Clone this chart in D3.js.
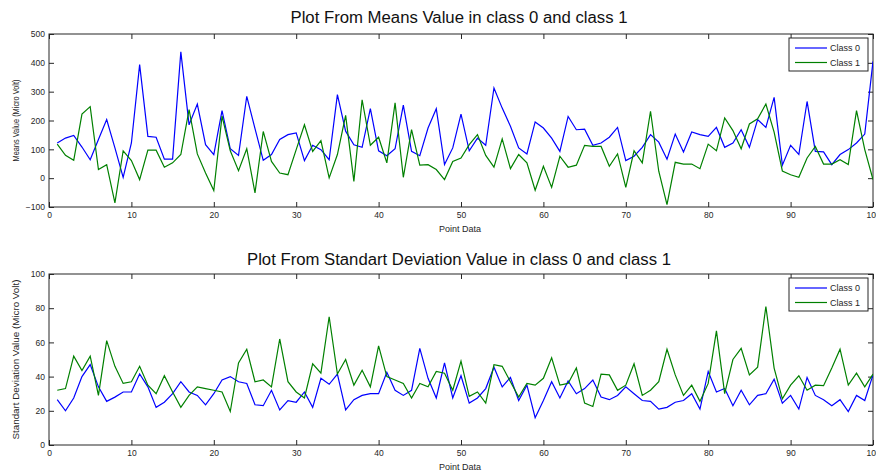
<!DOCTYPE html>
<html>
<head>
<meta charset="utf-8">
<script src="https://cdn.jsdelivr.net/npm/d3@7"></script>
<style>
  body { margin: 0; background: #fff; }
  svg { font-family: "Liberation Sans", Arial, sans-serif; }
</style>
</head>
<body>
<script>
/* --------------------------------------------------------------------------------- */
// data, x = 1 .. 100
var point_index = d3.range(1, 101);

var means_class0 = [122, 139, 148, 108, 64, 134, 203, 105, 3, 122,
  394, 145, 142, 66, 66, 438, 185, 257, 116, 82,
  234, 102, 79, 284, 172, 62, 82, 134, 151, 157,
  61, 114, 99, 64, 290, 163, 116, 107, 241, 95,
  78, 102, 253, 93, 78, 174, 241, 47, 105, 222,
  95, 139, 114, 313, 243, 180, 105, 84, 195, 174,
  139, 93, 214, 168, 170, 114, 122, 142, 176, 61,
  76, 107, 151, 125, 66, 153, 91, 160, 151, 145,
  176, 107, 122, 168, 107, 203, 176, 280, 45, 114,
  82, 266, 93, 91, 47, 82, 99, 122, 153, 405];

var means_class1 = [118, 79, 62, 222, 248, 30, 47, -86, 95, 61,
  -5, 97, 97, 38, 53, 82, 238, 84, 18, -43,
  215, 95, 26, 102, -51, 162, 58, 18, 12, 99,
  185, 93, 130, 1, 82, 218, -11, 272, 114, 142,
  53, 261, 3, 168, 45, 47, 30, -5, 58, 70,
  116, 151, 79, 38, 136, 33, 82, 53, -42, 41,
  -32, 76, 38, 45, 114, 110, 110, 41, 84, -32,
  95, 53, 232, 24, -92, 55, 49, 49, 33, 118,
  95, 209, 165, 102, 188, 206, 257, 160, 25, 12,
  3, 70, 110, 49, 49, 64, 47, 234, 99, -5];

var std_class0 = [26.5, 20, 27.5, 40, 47, 34, 25.5, 28, 31, 31,
  41.5, 34, 22, 25, 30, 37, 31, 29, 23.5, 30,
  38, 40, 37, 36, 23.5, 23, 32, 20.5, 26, 25,
  31, 22, 39, 35.5, 41.5, 20.5, 26.5, 29, 30, 30,
  42.5, 32, 29, 32, 56.5, 39, 27.5, 48, 27.5, 40.5,
  24.5, 27.5, 33, 45.5, 34, 39.5, 26, 35, 16, 26,
  37, 27.5, 37.5, 30, 33, 38, 28, 26.5, 29, 34,
  30, 26, 25.5, 21, 22, 25, 26, 30, 21, 43,
  31, 33, 23, 32, 23.5, 29, 30, 38.5, 24.5, 29,
  21, 39.5, 29, 26.5, 23, 26.5, 19.6, 29, 26, 41];

var std_class1 = [32, 33, 52, 43.5, 52, 29, 61, 46, 36, 37,
  46, 35, 30, 40.5, 31, 22, 29, 34, 33, 32,
  31, 19.6, 48, 56, 37, 38, 34, 62, 37, 31,
  27.5, 47.5, 42, 75, 41.5, 50, 35, 43.7, 34, 58,
  40, 38, 36, 27.5, 36, 34, 43, 42, 32, 49,
  28.5, 31, 24.5, 47, 46, 37, 28, 36, 35, 39,
  51, 35, 36, 45, 24.5, 22.5, 41.5, 41, 32, 35,
  47.5, 29, 32, 37, 56, 41, 29, 35, 25.5, 36,
  66.7, 30, 50, 56.5, 41, 45.5, 81, 45, 27, 35,
  40.5, 32, 35, 34.7, 45, 56, 35, 42, 34, 41.5];

var x_ticks = d3.range(0, 101, 10);
var means_ticks = [-100, 0, 100, 200, 300, 400, 500];
var std_ticks = [0, 20, 40, 60, 80, 100];
var legend_labels = ["Class 0", "Class 1"];
var series_colors = ["#0000ff", "#008000"];
/* --------------------------------------------------------------------------------- */

var svg = d3.select("body").append("svg")
    .attr("width", 876)
    .attr("height", 476);

// --------------------------------------------------------------------------------------
// draw one matlab-like subplot
// --------------------------------------------------------------------------------------
function draw_subplot(cfg)
{
  var left = 49, right = 873;
  var tick_len = 5;

  var x = d3.scaleLinear().domain([0, 100]).range([left, right]);
  var y = d3.scaleLinear().domain(cfg.y_domain).range([cfg.bottom, cfg.top]);

  var g = svg.append("g");

  // ==========================================================
  // title
  g.append("text")
      .attr("x", 459)
      .attr("y", cfg.title_y)
      .attr("text-anchor", "middle")
      .style("font-size", "16px")
      .style("fill", "#111")
      .attr("textLength", cfg.title_len)
      .attr("lengthAdjust", "spacingAndGlyphs")
      .text(cfg.title);

  // ==========================================================
  // axes, ticks pointing inside on all four sides
  var ax_bottom = g.append("g")
      .attr("transform", "translate(0," + cfg.bottom + ")")
      .call(d3.axisBottom(x).tickValues(x_ticks).tickSizeInner(-tick_len).tickSizeOuter(0).tickPadding(5));
  var ax_top = g.append("g")
      .attr("transform", "translate(0," + cfg.top + ")")
      .call(d3.axisTop(x).tickValues(x_ticks).tickSizeInner(-tick_len).tickSizeOuter(0).tickFormat(""));
  var ax_left = g.append("g")
      .attr("transform", "translate(" + left + ",0)")
      .call(d3.axisLeft(y).tickValues(cfg.y_ticks).tickSizeInner(-tick_len).tickSizeOuter(0).tickPadding(4));
  var ax_right = g.append("g")
      .attr("transform", "translate(" + right + ",0)")
      .call(d3.axisRight(y).tickValues(cfg.y_ticks).tickSizeInner(-tick_len).tickSizeOuter(0).tickFormat(""));

  [ax_bottom, ax_top, ax_left, ax_right].forEach(function(a) {
    a.select(".domain").remove();
    a.selectAll("line").attr("stroke", "#262626");
    a.selectAll("text").style("font-size", "8.5px").style("fill", "#262626");
  });
  // left labels sit outside the inner ticks
  ax_left.selectAll("text").attr("x", -4);

  g.append("rect")
      .attr("x", left)
      .attr("y", cfg.top)
      .attr("width", right - left)
      .attr("height", cfg.bottom - cfg.top)
      .attr("fill", "none")
      .attr("stroke", "#262626")
      .attr("stroke-width", 1);

  // ==========================================================
  // axis labels
  g.append("text")
      .attr("x", 460)
      .attr("y", cfg.bottom + 25)
      .attr("text-anchor", "middle")
      .style("font-size", "9px")
      .style("fill", "#262626")
      .text("Point Data");

  g.append("text")
      .attr("transform", "translate(19," + ((cfg.top + cfg.bottom) / 2) + ") rotate(-90)")
      .attr("text-anchor", "middle")
      .style("font-size", "8.5px")
      .style("fill", "#262626")
      .attr("textLength", cfg.y_label_len)
      .attr("lengthAdjust", "spacingAndGlyphs")
      .text(cfg.y_label);

  // ==========================================================
  // lines
  var clip_id = "clip" + cfg.top;
  g.append("clipPath").attr("id", clip_id)
    .append("rect")
      .attr("x", left).attr("y", cfg.top)
      .attr("width", right - left).attr("height", cfg.bottom - cfg.top);

  var line = d3.line()
      .x(function(d, i) { return x(point_index[i]); })
      .y(function(d) { return y(d); });

  cfg.series.forEach(function(s, k) {
    g.append("path")
        .datum(s)
        .attr("clip-path", "url(#" + clip_id + ")")
        .attr("fill", "none")
        .attr("stroke", series_colors[k])
        .attr("stroke-width", 1.2)
        .attr("d", line);
  });

  // ==========================================================
  // legend box
  var lx = 789, ly = cfg.top + 4;
  var leg = g.append("g");
  leg.append("rect")
      .attr("x", lx).attr("y", ly)
      .attr("width", 79).attr("height", 33)
      .attr("fill", "#fff")
      .attr("stroke", "#262626");

  legend_labels.forEach(function(lbl, k) {
    var yy = ly + 10 + k * 14.5;
    leg.append("line")
        .attr("x1", lx + 6).attr("x2", lx + 38)
        .attr("y1", yy).attr("y2", yy)
        .attr("stroke", series_colors[k])
        .attr("stroke-width", 1.2);
    leg.append("text")
        .attr("x", lx + 41)
        .attr("y", yy + 3)
        .style("font-size", "9px")
        .style("fill", "#262626")
        .text(lbl);
  });
}
/* --------------------------------------------------------------------------------- */

draw_subplot({
  title: "Plot From Means Value in class 0 and class 1",
  title_y: 23, title_len: 337,
  top: 34, bottom: 207,
  y_domain: [-100, 500], y_ticks: means_ticks,
  y_label: "Means Value (Micro Volt)", y_label_len: 82,
  series: [means_class0, means_class1]
});

draw_subplot({
  title: "Plot From Standart Deviation Value in class 0 and class 1",
  title_y: 265, title_len: 424,
  top: 274, bottom: 445,
  y_domain: [0, 100], y_ticks: std_ticks,
  y_label: "Standart Deviation Value (Micro Volt)", y_label_len: 160,
  series: [std_class0, std_class1]
});
</script>
</body>
</html>
